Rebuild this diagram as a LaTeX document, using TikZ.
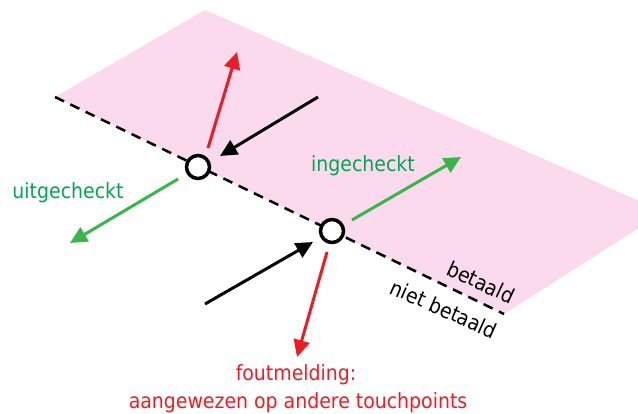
\documentclass[tikz,border=0pt]{standalone}
\usepackage{fontspec}
\setmainfont[FakeStretch=0.9]{DejaVu Sans}
\usetikzlibrary{arrows.meta}
\definecolor{pinkarea}{RGB}{250,218,236}
\definecolor{redarrow}{RGB}{237,28,36}
\definecolor{greenarrow}{RGB}{57,181,74}
\definecolor{greentext}{RGB}{0,166,81}
\tikzset{
  arr/.style={line width=3pt,-{Triangle[length=17pt,width=16pt]}},
  touch/.style={circle,draw=black,fill=white,line width=3.5pt,minimum size=23pt,inner sep=0pt},
  lbl/.style={font=\fontsize{21}{28}\selectfont,inner sep=0pt}
}
\begin{document}
\begin{tikzpicture}[x=1pt,y=-1pt]
\useasboundingbox (0,0) rectangle (638,413);
\begin{scope}
\clip (0,0) rectangle (638,413);
\fill[pinkarea] (55,97) -- (205,10) -- (664,212) -- (504,314) -- cycle;
\end{scope}
\draw[line width=2.5pt,dash pattern=on 10pt off 7pt] (55,97) -- (504,314);
\node[touch] (c1) at (198,167) {};
\node[touch] (c2) at (332,231) {};
% free ends
\coordinate (r1s) at (208,148);
\coordinate (r1e) at (237,52);
\coordinate (b1s) at (318,97);
\coordinate (b1e) at (220,156);
\coordinate (g1s) at (178,179);
\coordinate (g1e) at (70,243);
\coordinate (g2s) at (352,220);
\coordinate (g2e) at (461,157);
\coordinate (b2s) at (205,304);
\coordinate (b2e) at (313,242);
\coordinate (r2s) at (327,252);
\coordinate (r2e) at (297,357);
\draw[arr,redarrow] (r1s) -- (r1e);
\draw[arr,black] (b1s) -- (b1e);
\draw[arr,greenarrow] (g1s) -- (g1e);
\draw[arr,greenarrow] (g2s) -- (g2e);
\draw[arr,black] (b2s) -- (b2e);
\draw[arr,redarrow] (r2s) -- (r2e);
\node[lbl,text=greentext] (uit) at (68,193) {uitgecheckt};
\node[lbl,text=greentext] (in) at (363,166) {ingecheckt};
\node[lbl,text=redarrow,anchor=base] (fout) at (296,380) {foutmelding:};
\node[lbl,text=redarrow,anchor=base] (fout2) at (298,408) {aangewezen op andere touchpoints};
\node[lbl,rotate=-25] (bet) at (481,282) {betaald};
\node[lbl,rotate=-24] (niet) at (444,309) {niet betaald};
\end{tikzpicture}
\end{document}
